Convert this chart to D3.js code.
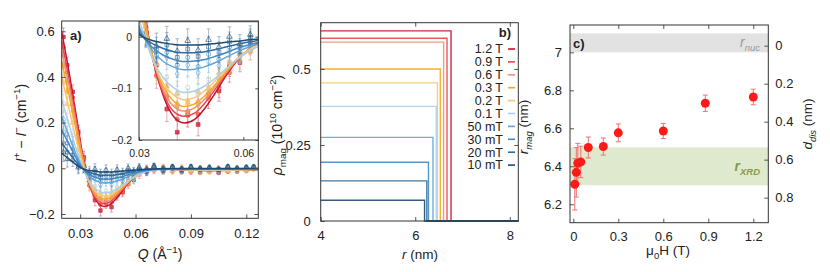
<!DOCTYPE html>
<html>
<head>
<meta charset="utf-8">
<script src="https://cdn.jsdelivr.net/npm/d3@7"></script>
<style>
body { margin: 0; background: #fff; }
text { font-family: "Liberation Sans", Arial, sans-serif; fill: #222; }
</style>
</head>
<body>
<div id="chart"></div>
<script>
// ---------- data ----------
var fieldLabels = ["1.2 T", "0.9 T", "0.6 T", "0.3 T", "0.2 T", "0.1 T", "50 mT", "30 mT", "20 mT", "10 mT"];
var fieldColors = ["#c8102e", "#e5484d", "#f0907a", "#f4a81d", "#f8c57a", "#a9cfea", "#62a6d8", "#4589c2", "#2e6c9f", "#1d4b73"];

// panel a: fitted curves
var qFit = [0.020, 0.024, 0.028, 0.031, 0.034, 0.037, 0.040, 0.043, 0.046, 0.049, 0.052, 0.055, 0.058, 0.062, 0.066, 0.072, 0.080, 0.090, 0.100, 0.110, 0.120, 0.1265];
var fit1200 = [0.600, 0.420, 0.225, 0.075, -0.045, -0.115, -0.155, -0.167, -0.160, -0.138, -0.108, -0.076, -0.048, -0.022, -0.008, -0.002, -0.004, -0.008, -0.010, -0.009, -0.006, -0.005];
var fit900  = [0.560, 0.390, 0.205, 0.068, -0.043, -0.110, -0.145, -0.154, -0.148, -0.128, -0.101, -0.073, -0.047, -0.023, -0.009, -0.002, -0.004, -0.008, -0.010, -0.009, -0.006, -0.005];
var fit600  = [0.520, 0.360, 0.185, 0.060, -0.040, -0.104, -0.135, -0.144, -0.138, -0.120, -0.096, -0.070, -0.046, -0.023, -0.009, -0.002, -0.004, -0.007, -0.009, -0.008, -0.006, -0.005];
var fit300  = [0.470, 0.320, 0.160, 0.048, -0.040, -0.097, -0.125, -0.135, -0.130, -0.114, -0.092, -0.068, -0.045, -0.023, -0.010, -0.003, -0.004, -0.007, -0.009, -0.008, -0.006, -0.005];
var fit200  = [0.400, 0.260, 0.120, 0.030, -0.045, -0.090, -0.113, -0.122, -0.118, -0.104, -0.085, -0.064, -0.044, -0.024, -0.011, -0.004, -0.004, -0.006, -0.008, -0.007, -0.005, -0.004];
var fit100  = [0.300, 0.190, 0.080, 0.012, -0.045, -0.080, -0.099, -0.108, -0.105, -0.095, -0.080, -0.062, -0.045, -0.027, -0.014, -0.006, -0.005, -0.006, -0.007, -0.006, -0.005, -0.004];
var fit50   = [0.226, 0.140, 0.057, 0.005, -0.028, -0.048, -0.059, -0.064, -0.063, -0.058, -0.050, -0.040, -0.030, -0.019, -0.011, -0.005, -0.004, -0.004, -0.004, -0.004, -0.003, -0.003];
var fit30   = [0.168, 0.105, 0.042, 0.002, -0.022, -0.036, -0.044, -0.048, -0.047, -0.044, -0.038, -0.031, -0.023, -0.015, -0.009, -0.004, -0.003, -0.003, -0.003, -0.003, -0.002, -0.002];
var fit20   = [0.110, 0.068, 0.026, 0.000, -0.014, -0.023, -0.029, -0.031, -0.031, -0.029, -0.025, -0.020, -0.015, -0.010, -0.006, -0.003, -0.002, -0.002, -0.002, -0.002, -0.001, -0.001];
var fit10   = [0.066, 0.040, 0.015, 0.000, -0.008, -0.012, -0.015, -0.016, -0.016, -0.015, -0.013, -0.011, -0.009, -0.006, -0.004, -0.002, -0.001, -0.001, -0.001, -0.001, -0.001, -0.001];

// panel a: measured points
var qData = [0.021, 0.023, 0.026, 0.029, 0.032, 0.035, 0.038, 0.041, 0.044, 0.047, 0.050, 0.053, 0.056, 0.059, 0.062, 0.066, 0.070, 0.075, 0.080, 0.085, 0.090, 0.095, 0.100, 0.105, 0.110, 0.115, 0.120, 0.124];
var qErr  = [0.040, 0.035, 0.030, 0.028, 0.026, 0.025, 0.024, 0.024, 0.023, 0.022, 0.021, 0.020, 0.019, 0.018, 0.017, 0.016, 0.015, 0.014, 0.013, 0.012, 0.012, 0.011, 0.011, 0.010, 0.010, 0.010, 0.010, 0.010];
var pts1200 = [0.575, 0.452, 0.335, 0.160, 0.048, -0.055, -0.140, -0.185, -0.152, -0.170, -0.118, -0.105, -0.058, -0.050, -0.015, -0.016, 0.006, -0.012, 0.004, -0.014, -0.002, -0.016, -0.006, -0.018, 0.002, -0.012, -0.004, 0.002];
var pts900  = [0.530, 0.420, 0.310, 0.150, 0.040, -0.075, -0.115, -0.160, -0.145, -0.150, -0.110, -0.098, -0.070, -0.035, -0.028, -0.002, -0.010, 0.004, -0.012, -0.002, -0.015, -0.004, -0.013, 0.000, -0.014, -0.003, -0.010, 0.000];
var pts600  = [0.495, 0.385, 0.280, 0.135, 0.020, -0.052, -0.120, -0.130, -0.150, -0.125, -0.118, -0.080, -0.068, -0.034, -0.018, -0.014, 0.002, -0.008, -0.010, 0.003, -0.012, -0.005, -0.014, -0.002, -0.011, -0.003, -0.009, 0.001];
var pts300  = [0.445, 0.340, 0.250, 0.115, 0.028, -0.066, -0.098, -0.136, -0.125, -0.132, -0.100, -0.090, -0.052, -0.044, -0.016, -0.012, 0.000, -0.009, -0.002, -0.011, -0.004, -0.013, -0.006, -0.010, 0.000, -0.012, -0.004, -0.001];
var pts200  = [0.375, 0.280, 0.200, 0.080, 0.012, -0.052, -0.105, -0.110, -0.128, -0.106, -0.102, -0.070, -0.062, -0.033, -0.028, -0.006, -0.008, 0.002, -0.009, -0.003, -0.010, 0.001, -0.011, -0.004, -0.010, 0.001, -0.007, -0.002];
var pts100  = [0.285, 0.205, 0.145, 0.050, 0.004, -0.066, -0.078, -0.110, -0.098, -0.112, -0.082, -0.080, -0.048, -0.046, -0.020, -0.018, 0.003, -0.010, -0.001, -0.012, 0.002, -0.009, -0.004, -0.012, 0.003, -0.008, -0.002, 0.004];
var pts50   = [0.215, 0.150, 0.110, 0.030, 0.006, -0.044, -0.040, -0.072, -0.055, -0.070, -0.048, -0.056, -0.028, -0.034, -0.010, -0.016, 0.004, -0.008, 0.002, -0.010, 0.003, -0.006, -0.001, -0.009, 0.004, -0.005, 0.001, 0.003];
var pts30   = [0.160, 0.110, 0.085, 0.020, 0.008, -0.036, -0.030, -0.055, -0.040, -0.058, -0.034, -0.044, -0.020, -0.030, -0.006, -0.014, 0.005, -0.007, 0.003, -0.008, 0.004, -0.005, 0.000, -0.007, 0.005, -0.004, 0.002, 0.004];
var pts20   = [0.108, 0.070, 0.058, 0.010, 0.006, -0.026, -0.016, -0.040, -0.024, -0.038, -0.020, -0.030, -0.010, -0.022, -0.002, -0.010, 0.006, -0.005, 0.004, -0.006, 0.005, -0.003, 0.002, -0.006, 0.006, -0.002, 0.003, 0.005];
var pts10   = [0.070, 0.040, 0.038, 0.004, 0.010, -0.018, -0.004, -0.028, -0.008, -0.026, -0.006, -0.020, 0.000, -0.014, 0.004, -0.006, 0.008, -0.003, 0.005, -0.004, 0.006, -0.001, 0.003, -0.005, 0.007, 0.000, 0.004, 0.006];

// panel b: step profiles
var rhoMag = [0.625, 0.601, 0.588, 0.500, 0.454, 0.377, 0.275, 0.193, 0.132, 0.068];
var rStep  = [6.757, 6.672, 6.600, 6.530, 6.470, 6.445, 6.375, 6.280, 6.245, 6.197];

// panel c: magnetic radius vs field
var fieldT = [0.01, 0.02, 0.03, 0.05, 0.1, 0.2, 0.3, 0.6, 0.88, 1.2];
var rMag   = [6.305, 6.368, 6.416, 6.423, 6.499, 6.504, 6.576, 6.586, 6.732, 6.765];
var rMagErr = [0.135, 0.130, 0.105, 0.083, 0.055, 0.045, 0.047, 0.040, 0.043, 0.041];
var rNuc = 7.035;
var rNucBand = [7.0, 7.1];
var rXrdBand = [6.3, 6.5];

var fits = [fit1200, fit900, fit600, fit300, fit200, fit100, fit50, fit30, fit20, fit10];
var points = [pts1200, pts900, pts600, pts300, pts200, pts100, pts50, pts30, pts20, pts10];
var shapes = [d3.symbolSquare, d3.symbolCircle, d3.symbolTriangle, d3.symbolDiamond, d3.symbolTriangle,
              d3.symbolCircle, d3.symbolDiamond, d3.symbolCircle, d3.symbolSquare, d3.symbolTriangle];
var filled = [true, true, true, true, true, false, false, false, false, false];

// ---------- helpers ----------
var svg = d3.select("#chart").append("svg")
    .attr("width", 830)
    .attr("height", 272);

function rich(parent, x, y, parts, size, rot) {
  var t = parent.append("text")
      .attr("transform", "translate(" + x + "," + y + ")" + (rot ? " rotate(-90)" : ""))
      .attr("text-anchor", "middle")
      .style("font-size", size + "px");
  var shift = 0;
  parts.forEach(function(p) {
    var k = p[1] || "";
    var target = 0, fs = size;
    if (k.indexOf("sup") >= 0) { target = -0.4 * size; fs = size * 0.7; }
    if (k.indexOf("sub") >= 0) { target = 0.28 * size; fs = size * 0.7; }
    var ts = t.append("tspan").attr("dy", target - shift).style("font-size", fs + "px").text(p[0]);
    if (k.charAt(0) === "i") ts.style("font-style", "italic");
    shift = target;
  });
  return t;
}

function frame(x0, y0, x1, y1) {
  svg.append("rect")
      .attr("x", x0).attr("y", y0)
      .attr("width", x1 - x0).attr("height", y1 - y0)
      .attr("fill", "none").attr("stroke", "#333").attr("stroke-width", 1);
}

function styleAxis(g, fs) {
  g.select(".domain").remove();
  g.selectAll(".tick line").attr("stroke", "#555");
  g.selectAll(".tick text").style("font-size", fs + "px").attr("fill", "#222")
      .style("font-family", "'Liberation Sans', Arial, sans-serif");
}

var fmt1 = function(d) { return d === 0 ? "0" : d3.format(".1f")(d); };
var fmt2 = function(d) { return d3.format(".2f")(d); };

// ---------- panel a ----------
var aL = 61.7, aR = 258.3, aT = 21, aB = 218.3;
var xA = d3.scaleLinear().domain([0.02, 0.1265]).range([aL, aR]);
var yA = d3.scaleLinear().domain([-0.219, 0.645]).range([aB, aT]);

svg.append("clipPath").attr("id", "clipA").append("rect")
    .attr("x", aL).attr("y", aT).attr("width", aR - aL).attr("height", aB - aT);

function drawSeries(g, xs, ys, capW, symSize) {
  points.forEach(function(vals, i) {
    var col = fieldColors[i];
    var sg = g.append("g");
    vals.forEach(function(v, j) {
      var cx = xs(qData[j]);
      sg.append("line")
          .attr("x1", cx).attr("x2", cx)
          .attr("y1", ys(v - qErr[j])).attr("y2", ys(v + qErr[j]))
          .attr("stroke", col).attr("stroke-width", 0.8).attr("opacity", 0.45);
      [v - qErr[j], v + qErr[j]].forEach(function(e) {
        sg.append("line")
            .attr("x1", cx - capW).attr("x2", cx + capW)
            .attr("y1", ys(e)).attr("y2", ys(e))
            .attr("stroke", col).attr("stroke-width", 0.8).attr("opacity", 0.45);
      });
      sg.append("path")
          .attr("d", d3.symbol().type(shapes[i]).size(symSize)())
          .attr("transform", "translate(" + cx + "," + ys(v) + ")")
          .attr("fill", filled[i] ? col : "none")
          .attr("fill-opacity", 0.75)
          .attr("stroke", col).attr("stroke-width", 0.9).attr("stroke-opacity", 0.7);
    });
  });
  var line = d3.line()
      .x(function(d, j) { return xs(qFit[j]); })
      .y(function(d) { return ys(d); })
      .curve(d3.curveMonotoneX);
  fits.forEach(function(f, i) {
    g.append("path")
        .attr("d", line(f))
        .attr("fill", "none")
        .attr("stroke", fieldColors[i])
        .attr("stroke-width", 1.5);
  });
}

var gA = svg.append("g").attr("clip-path", "url(#clipA)");
drawSeries(gA, xA, yA, 1.5, 12);

svg.append("g").attr("transform", "translate(" + aL + ",0)")
    .call(d3.axisLeft(yA).tickValues([-0.2, 0, 0.2, 0.4, 0.6]).tickSize(-4).tickPadding(7).tickFormat(fmt1))
    .call(styleAxis, 13);
svg.append("g").attr("transform", "translate(" + aR + ",0)")
    .call(d3.axisRight(yA).tickValues([-0.2, 0, 0.2, 0.4, 0.6]).tickSize(-4).tickFormat(""))
    .call(styleAxis, 13);
svg.append("g").attr("transform", "translate(0," + aB + ")")
    .call(d3.axisBottom(xA).tickValues([0.03, 0.06, 0.09, 0.12]).tickSize(-4).tickPadding(10.5).tickFormat(fmt2))
    .call(styleAxis, 13);
frame(aL, aT, aR, aB);

// inset
var iL = 139, iR = 258.3, iT = 21.7, iB = 140;
var xI = d3.scaleLinear().domain([0.03, 0.0643]).range([iL, iR]);
var yI = d3.scaleLinear().domain([-0.2, 0.029]).range([iB, iT]);
svg.append("rect").attr("x", iL).attr("y", iT).attr("width", iR - iL).attr("height", iB - iT).attr("fill", "#fff");
svg.append("clipPath").attr("id", "clipI").append("rect")
    .attr("x", iL).attr("y", iT).attr("width", iR - iL).attr("height", iB - iT);
var gI = svg.append("g").attr("clip-path", "url(#clipI)");
drawSeries(gI, xI, yI, 1.8, 14);

svg.append("g").attr("transform", "translate(" + iL + ",0)")
    .call(d3.axisLeft(yI).tickValues([-0.2, -0.1, 0]).tickSize(-3).tickPadding(7).tickFormat(fmt1))
    .call(styleAxis, 10.5);
svg.append("g").attr("transform", "translate(" + iR + ",0)")
    .call(d3.axisRight(yI).tickValues([-0.2, -0.1, 0]).tickSize(-3).tickFormat(""))
    .call(styleAxis, 10.5);
svg.append("g").attr("transform", "translate(0," + iB + ")")
    .call(d3.axisBottom(xI).tickValues([0.03, 0.06]).tickSize(-3).tickPadding(10).tickFormat(fmt2))
    .call(styleAxis, 10.5);
frame(iL, iT, iR, iB);

svg.append("text").attr("x", 70).attr("y", 40)
    .style("font-size", "13px").style("font-weight", "bold").text("a)");

rich(svg, 26, 123, [["I", "i"], ["+", "sup"], [" − "], ["I", "i"], ["−", "sup"], [" (cm"], ["−1", "sup"], [")"]], 14, true);
rich(svg, 160, 259, [["Q", "i"], [" (Å"], ["−1", "sup"], [")"]], 14, false);

// ---------- panel b ----------
var bL = 320.7, bR = 518.3, bT = 22.7, bB = 221;
var xB = d3.scaleLinear().domain([4, 8.18]).range([bL, bR]);
var yB = d3.scaleLinear().domain([0, 0.652]).range([bB, bT]);

var stepLine = d3.line()
    .x(function(d) { return xB(d[0]); })
    .y(function(d) { return yB(d[1]); });

rhoMag.forEach(function(rho, i) {
  svg.append("path")
      .attr("d", stepLine([[4, rho], [rStep[i], rho], [rStep[i], 0], [8.18, 0]]))
      .attr("fill", "none")
      .attr("stroke", fieldColors[i])
      .attr("stroke-width", 1.4)
      .attr("stroke-opacity", 0.9);
});

svg.append("g").attr("transform", "translate(" + bL + ",0)")
    .call(d3.axisLeft(yB).tickValues([0, 0.25, 0.5]).tickSize(-4).tickPadding(10)
      .tickFormat(function(d) { return d === 0 ? "0" : String(d); }))
    .call(styleAxis, 13);
svg.append("g").attr("transform", "translate(" + bR + ",0)")
    .call(d3.axisRight(yB).tickValues([0, 0.25, 0.5]).tickSize(-4).tickFormat(""))
    .call(styleAxis, 13);
svg.append("g").attr("transform", "translate(0," + bB + ")")
    .call(d3.axisBottom(xB).tickValues([4, 6, 8]).tickSize(-4).tickPadding(9.8).tickFormat(d3.format("d")))
    .call(styleAxis, 13);
svg.append("g").attr("transform", "translate(0," + bT + ")")
    .call(d3.axisTop(xB).tickValues([4, 6, 8]).tickSize(-4).tickFormat(""))
    .call(styleAxis, 13);
frame(bL, bT, bR, bB);

var legB = svg.append("g");
fieldLabels.forEach(function(lab, i) {
  var ly = 49 + i * 12.9;
  legB.append("text").attr("x", 503).attr("y", ly + 4.3)
      .attr("text-anchor", "end").style("font-size", "12.5px").text(lab);
  legB.append("line").attr("x1", 508).attr("x2", 515).attr("y1", ly).attr("y2", ly)
      .attr("stroke", fieldColors[i]).attr("stroke-width", 1.6);
});
svg.append("text").attr("x", 505).attr("y", 37).attr("text-anchor", "middle")
    .style("font-size", "13px").style("font-weight", "bold").text("b)");

rich(svg, 282, 125, [["ρ", "i"], ["mag", "sub"], [" (10"], ["10", "sup"], [" cm"], ["−2", "sup"], [")"]], 14, true);
rich(svg, 420, 259, [["r", "i"], [" (nm)"]], 13.5, false);

// ---------- panel c ----------
var cL = 570, cR = 768.3, cT = 25, cB = 222.7;
var xC = d3.scaleLinear().domain([-0.022, 1.3]).range([cL, cR]);
var yC = d3.scaleLinear().domain([6.103, 7.144]).range([cB, cT]);
var yD = d3.scaleLinear().domain([rNuc - 6.103, rNuc - 7.144]).range([cB, cT]);

svg.append("rect").attr("x", cL).attr("width", cR - cL)
    .attr("y", yC(rNucBand[1])).attr("height", yC(rNucBand[0]) - yC(rNucBand[1]))
    .attr("fill", "#e2e2e2");
svg.append("rect").attr("x", cL).attr("width", cR - cL)
    .attr("y", yC(rXrdBand[1])).attr("height", yC(rXrdBand[0]) - yC(rXrdBand[1]))
    .attr("fill", "#dfe9cd");

svg.append("text").attr("x", 760).attr("y", 47).attr("text-anchor", "end")
    .style("font-size", "14px").style("font-style", "italic").style("fill", "#9a9a9a")
    .call(function(t) {
      t.append("tspan").text("r");
      t.append("tspan").attr("dy", 3.5).style("font-size", "9.5px").text("nuc");
    });
svg.append("text").attr("x", 760).attr("y", 171).attr("text-anchor", "end")
    .style("font-size", "14px").style("font-style", "italic").style("font-weight", "bold").style("fill", "#8a9a48")
    .call(function(t) {
      t.append("tspan").text("r");
      t.append("tspan").attr("dy", 3.5).style("font-size", "9.5px").text("XRD");
    });

var gC = svg.append("g");
rMag.forEach(function(r, i) {
  var cx = xC(fieldT[i]);
  var lo = yC(r - rMagErr[i]), hi = yC(r + rMagErr[i]);
  gC.append("line").attr("x1", cx).attr("x2", cx).attr("y1", lo).attr("y2", hi)
      .attr("stroke", "#f07070").attr("stroke-width", 1);
  [lo, hi].forEach(function(yy) {
    gC.append("line").attr("x1", cx - 2.5).attr("x2", cx + 2.5).attr("y1", yy).attr("y2", yy)
        .attr("stroke", "#f07070").attr("stroke-width", 1);
  });
});
rMag.forEach(function(r, i) {
  gC.append("circle").attr("cx", xC(fieldT[i])).attr("cy", yC(r)).attr("r", 4.5)
      .attr("fill", "#ff1a1a");
});

svg.append("g").attr("transform", "translate(" + cL + ",0)")
    .call(d3.axisLeft(yC).tickValues([6.2, 6.4, 6.6, 6.8, 7]).tickSize(-4).tickPadding(8)
      .tickFormat(function(d) { return d === 7 ? "7" : d3.format(".1f")(d); }))
    .call(styleAxis, 13);
svg.append("g").attr("transform", "translate(" + cR + ",0)")
    .call(d3.axisRight(yD).tickValues([0, 0.2, 0.4, 0.6, 0.8]).tickSize(-4).tickPadding(7).tickFormat(fmt1))
    .call(styleAxis, 13);
svg.append("g").attr("transform", "translate(0," + cB + ")")
    .call(d3.axisBottom(xC).tickValues([0, 0.3, 0.6, 0.9, 1.2]).tickSize(-4).tickPadding(9.5).tickFormat(fmt1))
    .call(styleAxis, 13);
svg.append("g").attr("transform", "translate(0," + cT + ")")
    .call(d3.axisTop(xC).tickValues([0, 0.3, 0.6, 0.9, 1.2]).tickSize(-4).tickFormat(""))
    .call(styleAxis, 13);
frame(cL, cT, cR, cB);

svg.append("text").attr("x", 573).attr("y", 48)
    .style("font-size", "13px").style("font-weight", "bold").text("c)");

rich(svg, 528, 127, [["r", "i"], ["mag", "isub"], [" (nm)"]], 13.5, true);
rich(svg, 812, 124, [["d", "i"], ["dis", "isub"], [" (nm)"]], 13.5, true);
rich(svg, 668, 255, [["μ"], ["0", "sub"], ["H (T)"]], 13.5, false);
</script>
</body>
</html>
